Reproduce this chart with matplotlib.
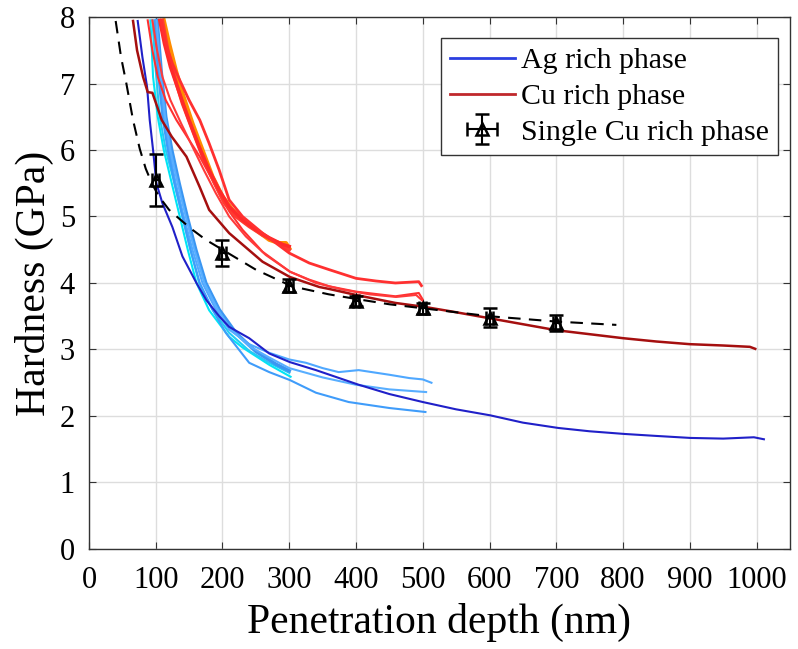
import matplotlib
matplotlib.use("Agg")
import matplotlib.pyplot as plt

plt.rcParams['font.family'] = ['Liberation Serif', 'DejaVu Serif']

# ---- Ag rich phase curves (depth nm, hardness GPa) ----
ag_dark_x = [73, 80, 87, 91, 96, 101, 110, 125, 140, 161, 176, 195, 210, 240, 270, 301, 340, 404,
             450, 500, 550, 601, 650, 703, 750, 802, 850, 901, 950, 996, 1011]
ag_dark_y = [7.94, 7.4, 6.95, 6.45, 6.0, 5.5, 5.2, 4.84, 4.4, 4.0, 3.74, 3.5, 3.34, 3.17, 2.94, 2.81, 2.69, 2.47,
             2.33, 2.21, 2.1, 2.01, 1.9, 1.82, 1.77, 1.73, 1.70, 1.67, 1.66, 1.68, 1.65]

cyan1_x = [92, 96, 103, 112, 124, 136, 148, 161, 180, 210, 230, 250, 270, 302]
cyan1_y = [7.95, 7.1, 6.5, 6.0, 5.5, 5.0, 4.5, 4.0, 3.59, 3.19, 3.03, 2.9, 2.77, 2.59]
cyan2_x = [95, 100, 106, 115, 128, 140, 152, 165, 185, 210, 240, 270, 300]
cyan2_y = [7.95, 7.2, 6.5, 6.0, 5.5, 5.0, 4.5, 4.0, 3.6, 3.25, 2.98, 2.8, 2.65]

lb1_x = [100, 105, 112, 120, 130, 142, 155, 170, 190, 210, 240, 270, 300, 325, 350, 374, 404, 450, 480, 500, 513]
lb1_y = [7.95, 7.2, 6.5, 6.0, 5.5, 5.0, 4.5, 4.0, 3.6, 3.3, 3.08, 2.95, 2.85, 2.80, 2.72, 2.66, 2.69, 2.62, 2.57, 2.55, 2.5]
lb2_x = [101, 107, 114, 122, 133, 145, 158, 173, 193, 213, 240, 270, 300, 350, 400, 450, 505]
lb2_y = [7.95, 7.2, 6.5, 6.0, 5.5, 5.0, 4.5, 4.0, 3.6, 3.3, 3.05, 2.88, 2.72, 2.58, 2.47, 2.40, 2.36]
lb3_x = [98, 103, 110, 118, 128, 140, 152, 166, 185, 205, 240, 270, 301, 340, 389, 450, 504]
lb3_y = [7.95, 7.2, 6.5, 6.0, 5.5, 5.0, 4.5, 4.0, 3.6, 3.25, 2.80, 2.66, 2.54, 2.35, 2.21, 2.12, 2.06]
lb4_x = [102, 108, 115, 124, 135, 147, 160, 175, 195, 220, 250, 280, 300]
lb4_y = [7.95, 7.2, 6.5, 6.0, 5.5, 5.0, 4.5, 4.0, 3.6, 3.25, 2.97, 2.78, 2.68]

# ---- Cu rich phase curves ----
cu_dark_x = [66, 72, 81, 88, 95, 109, 124, 146, 166, 180, 210, 260, 301, 345, 360, 400, 459, 503,
             550, 600, 650, 700, 750, 800, 850, 900, 950, 990, 998]
cu_dark_y = [7.94, 7.5, 7.1, 6.87, 6.86, 6.45, 6.2, 5.9, 5.44, 5.1, 4.75, 4.32, 4.09, 3.94, 3.91, 3.82, 3.70, 3.64,
             3.56, 3.47, 3.38, 3.29, 3.23, 3.17, 3.12, 3.08, 3.06, 3.04, 3.01]

r1_x = [108, 115, 125, 136, 150, 166, 180, 195, 210, 230, 260, 300, 330, 360, 400, 430, 459, 494, 498]
r1_y = [7.95, 7.6, 7.3, 7.05, 6.75, 6.45, 6.1, 5.7, 5.25, 5.0, 4.75, 4.45, 4.3, 4.2, 4.07, 4.03, 4.0, 4.02, 3.96]
r3_x = [106, 113, 122, 134, 148, 165, 180, 195, 210, 230, 250, 270, 290, 300]
r3_y = [7.95, 7.6, 7.25, 6.9, 6.5, 6.05, 5.7, 5.4, 5.15, 4.95, 4.8, 4.68, 4.58, 4.55]
r4_x = [110, 118, 128, 140, 155, 172, 188, 203, 220, 240, 260, 280, 300]
r4_y = [7.95, 7.5, 7.1, 6.7, 6.3, 5.85, 5.5, 5.2, 5.0, 4.85, 4.72, 4.62, 4.5]
r5_x = [88, 95, 103, 115, 131, 150, 166, 185, 200, 210, 230, 260, 301, 330, 360, 400, 459, 494, 500]
r5_y = [7.95, 7.5, 7.1, 6.75, 6.45, 6.15, 5.9, 5.55, 5.25, 5.08, 4.8, 4.47, 4.17, 4.05, 3.95, 3.87, 3.80, 3.85, 3.75]
r6_x = [95, 102, 110, 122, 138, 155, 172, 190, 210, 235, 265, 301, 340, 380, 420, 460, 490, 500]
r6_y = [7.95, 7.5, 7.1, 6.75, 6.4, 6.05, 5.7, 5.35, 5.0, 4.7, 4.42, 4.17, 4.0, 3.9, 3.83, 3.79, 3.82, 3.73]
orange_x = [112, 120, 130, 140, 155, 170, 185, 200, 215, 230, 250, 270, 285, 295, 300]
orange_y = [7.95, 7.6, 7.2, 6.85, 6.4, 6.0, 5.6, 5.3, 5.1, 4.95, 4.8, 4.65, 4.6, 4.6, 4.52]

# ---- single Cu rich phase: averaged points and fit ----
single_x = [100, 200, 300, 400, 500, 600, 700]
single_y = [5.55, 4.45, 3.96, 3.73, 3.62, 3.48, 3.40]
single_yerr = [0.39, 0.2, 0.1, 0.07, 0.08, 0.14, 0.12]
single_xerr = [5, 5, 5, 5, 5, 5, 5]

fit_x = [40, 48, 56, 66, 76, 85, 95, 105, 120, 136, 155, 175, 200, 250, 304, 359, 400, 450, 500, 600, 700, 790]
fit_y = [7.94, 7.4, 7.0, 6.45, 6.02, 5.72, 5.48, 5.3, 5.1, 4.96, 4.8, 4.65, 4.5, 4.2, 3.95, 3.83, 3.76, 3.68,
         3.62, 3.50, 3.42, 3.37]

fig = plt.figure(figsize=(7.98, 6.49), dpi=100)
ax = fig.add_axes([0.1115, 0.1541, 0.8784, 0.8197])

# blue family
ax.plot(cyan1_x, cyan1_y, color='#00E5F5', lw=1.5)
ax.plot(cyan2_x, cyan2_y, color='#22CCF5', lw=1.5)
ax.plot(lb4_x, lb4_y, color='#3A96F2', lw=2.5)
ax.plot(lb1_x, lb1_y, color='#4FA8FF', lw=1.5)
ax.plot(lb2_x, lb2_y, color='#58AEFF', lw=1.5)
ax.plot(lb3_x, lb3_y, color='#3F9CFA', lw=1.5)
ax.plot(ag_dark_x, ag_dark_y, color='#2020C8', lw=1.5)

# red family
ax.plot(r5_x, r5_y, color='#FF3030', lw=1.5)
ax.plot(r6_x, r6_y, color='#FF3A3A', lw=1.5)
ax.plot(orange_x, orange_y, color='#FF8C00', lw=3)
ax.plot(r4_x, r4_y, color='#FF3B30', lw=2.5)
ax.plot(r3_x, r3_y, color='#FF2A2A', lw=2.5)
ax.plot(r1_x, r1_y, color='#FF3030', lw=2)
ax.plot(cu_dark_x, cu_dark_y, color='#A50F0F', lw=1.8)

ax.plot(fit_x, fit_y, color='black', lw=1.5, dashes=(6, 4))
eb = ax.errorbar(single_x, single_y, yerr=single_yerr, xerr=single_xerr, fmt='^', color='black',
                 mfc='none', mec='black', mew=1.8, ms=9, capsize=5, elinewidth=1.5, capthick=1.5)

ax.set_xlim(0, 1050)
ax.set_ylim(0, 8)
ax.set_xticks(range(0, 1001, 100))
ax.set_yticks(range(0, 9))
ax.grid(True, color='#DDDDDD', lw=1)
ax.set_axisbelow(True)
ax.tick_params(direction='in', top=True, right=True, labelsize=22, length=5, color='#333333')
ax.tick_params(axis='x', pad=12)
ax.tick_params(axis='y', pad=10)
for s in ax.spines.values():
    s.set_color('#333333')
    s.set_linewidth(1)

ax.set_xlabel('Penetration depth (nm)', fontsize=30, labelpad=6)
ax.set_ylabel('Hardness (GPa)', fontsize=30, labelpad=4)

ag_leg, = ax.plot([], [], color='#2B3FE0', lw=2)
cu_leg, = ax.plot([], [], color='#C0282C', lw=2)
leg = ax.legend([ag_leg, cu_leg, eb], ['Ag rich phase', 'Cu rich phase', 'Single Cu rich phase'],
                loc='upper right', bbox_to_anchor=(0.983, 0.96), borderaxespad=0, fontsize=21.5,
                fancybox=False, framealpha=1, edgecolor='#333333', handlelength=2.2,
                handletextpad=0.2, labelspacing=0.3, borderpad=0.3)
leg.get_frame().set_linewidth(1)

fig.savefig('out.png', dpi=100)
